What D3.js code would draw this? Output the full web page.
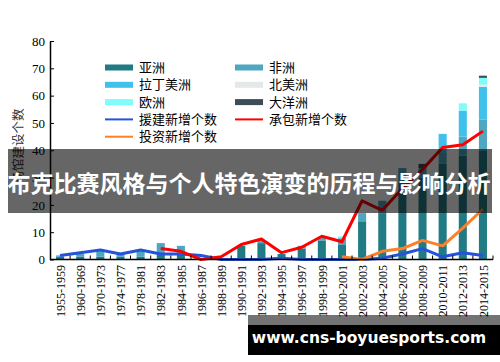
<!DOCTYPE html>
<html>
<head>
<meta charset="utf-8">
<script src="https://cdn.jsdelivr.net/npm/d3@7"></script>
<style>
  body { margin: 0; background: #fff; }
  svg { display: block; }
</style>
</head>
<body>
<div id="chart"></div>
<script>
// periods on the x axis
const periods = ["1955-1959", "1960-1969", "1970-1973", "1974-1977", "1978-1981", "1982-1983",
  "1984-1985", "1986-1987", "1988-1989", "1990-1991", "1992-1993", "1994-1995", "1996-1997",
  "1998-1999", "2000-2001", "2002-2003", "2004-2005", "2006-2007", "2008-2009", "2010-2011",
  "2012-2013", "2014-2015"];

// stacked bars, one array per continent
const asia     = [1, 1, 1, 1, 1, 2, 2, 0, 0, 5, 6, 2, 4, 7, 5.3, 14, 17, 29, 30, 35, 38, 40];
const africa   = [0.5, 1, 2, 1, 2, 4, 3, 0, 0, 0, 1, 0, 1, 1, 2.5, 3, 4.5, 4.5, 3.5, 4, 7, 11.3];
const latAm    = [0, 0, 0, 0, 0, 0, 0, 0, 0, 0, 0, 0, 0, 0, 0, 0, 0, 0, 0, 7, 9.5, 11.9];
const northAm  = [0, 0, 0, 0, 0, 0, 0, 0, 0, 0, 0, 0, 0, 0, 0, 0, 0, 0, 0, 0, 0, 0.8];
const europe   = [0, 0, 0, 0, 0, 0, 0, 0, 0, 0, 0, 0, 0, 0, 0.7, 0, 0, 0, 0, 0, 2.7, 2.5];
const oceania  = [0, 0, 0, 0, 0, 0, 0, 0, 0, 0, 0, 0, 0, 0, 0, 0, 0, 0, 1.5, 0, 0, 0.8];

// lines (null = no value for that period)
const aidNew      = [1.5, 2.5, 3.5, 2, 3.5, 2, 2, 1.5, 0, 0, 0, 0.5, 0, 0, 0, 0, 0.5, 2, 4, 1, 2.5, 1.5];
const contractNew = [null, null, null, null, null, 4, 3, 0, 1, 5.5, 7.5, 2.5, 4.5, 8.5, 6.5, 21.5, 18, 26, 33, 41, 42, 47];
const investNew   = [null, null, null, null, null, null, null, null, null, null, null, null, null, null, 1, 0, 3, 4, 7, 5, 11.5, 18.5];

const yTicks = [0, 10, 20, 30, 40, 50, 60, 70, 80];

const barSeries = [
  { key: "asia", name: "亚洲", values: asia, color: "#217b84" },
  { key: "africa", name: "非洲", values: africa, color: "#4fa6c1" },
  { key: "latAm", name: "拉丁美洲", values: latAm, color: "#3fc1ec" },
  { key: "northAm", name: "北美洲", values: northAm, color: "#e3e8e8" },
  { key: "europe", name: "欧洲", values: europe, color: "#80fcfc" },
  { key: "oceania", name: "大洋洲", values: oceania, color: "#3b4e57" }
];
const lineSeries = [
  { name: "援建新增个数", values: aidNew, color: "#2453d9" },
  { name: "承包新增个数", values: contractNew, color: "#ff0000" },
  { name: "投资新增个数", values: investNew, color: "#ff7f27" }
];

const W = 500, H = 362;
const serif = "'Liberation Serif', 'Noto Sans CJK SC', serif";

const svg = d3.select("#chart").append("svg")
  .attr("width", W)
  .attr("height", H);

const x = d3.scaleBand()
  .domain(periods)
  .range([50, 493])
  .paddingInner(0.6)
  .paddingOuter(0.3);

const y = d3.scaleLinear()
  .domain([0, 80])
  .range([259.5, 41]);

// build the stack table from the arrays
const table = periods.map((p, i) => {
  const row = { period: p };
  barSeries.forEach(s => { row[s.key] = s.values[i]; });
  return row;
});
const stacked = d3.stack().keys(barSeries.map(s => s.key))(table);

svg.append("g")
  .selectAll("g")
  .data(stacked)
  .join("g")
  .attr("fill", (d, i) => barSeries[i].color)
  .selectAll("rect")
  .data(d => d)
  .join("rect")
  .attr("x", d => x(d.data.period))
  .attr("width", x.bandwidth())
  .attr("y", d => y(d[1]))
  .attr("height", d => y(d[0]) - y(d[1]));

// lines
const line = d3.line()
  .defined(d => d != null)
  .x((d, i) => x(periods[i]) + x.bandwidth() / 2)
  .y(d => y(d));

svg.append("g")
  .selectAll("path")
  .data(lineSeries)
  .join("path")
  .attr("fill", "none")
  .attr("stroke", d => d.color)
  .attr("stroke-width", 3)
  .attr("stroke-linejoin", "round")
  .attr("d", d => line(d.values));

// y axis with inward ticks
const yAxis = svg.append("g")
  .attr("transform", "translate(50,0)")
  .call(d3.axisLeft(y).tickValues(yTicks).tickSizeInner(-4).tickSizeOuter(0).tickPadding(5));
yAxis.select(".domain").attr("stroke", "#000").attr("stroke-width", 1.5);
yAxis.selectAll(".tick text").style("font", "13px " + serif).attr("fill", "#000");

// x axis: line, ticks between the bands, rotated labels
const xg = svg.append("g");
xg.append("line")
  .attr("x1", 50).attr("x2", 493)
  .attr("y1", y(0)).attr("y2", y(0))
  .attr("stroke", "#000").attr("stroke-width", 1.5);
const gap = (x.step() - x.bandwidth()) / 2;
xg.selectAll(".xt")
  .data(periods)
  .join("line")
  .attr("class", "xt")
  .attr("x1", d => x(d) + x.bandwidth() + gap)
  .attr("x2", d => x(d) + x.bandwidth() + gap)
  .attr("y1", y(0)).attr("y2", y(0) - 4)
  .attr("stroke", "#000");
xg.selectAll("text")
  .data(periods)
  .join("text")
  .attr("transform", d => `translate(${x(d) + x.bandwidth() / 2 + 0.5},265) rotate(-90)`)
  .attr("text-anchor", "end")
  .attr("dy", "0.35em")
  .style("font", "12px " + serif)
  .text(d => d);

svg.append("text")
  .attr("transform", "translate(19,146) rotate(-90)")
  .attr("text-anchor", "middle")
  .attr("dy", "0.35em")
  .style("font", "12.5px " + serif)
  .attr("fill", "#333")
  .text("场馆建设个数");

// legend, two columns
const legendItems = [
  { name: "亚洲", color: "#217b84", type: "bar" },
  { name: "非洲", color: "#4fa6c1", type: "bar" },
  { name: "拉丁美洲", color: "#3fc1ec", type: "bar" },
  { name: "北美洲", color: "#e3e8e8", type: "bar" },
  { name: "欧洲", color: "#80fcfc", type: "bar" },
  { name: "大洋洲", color: "#3b4e57", type: "bar" },
  { name: "援建新增个数", color: "#2453d9", type: "line" },
  { name: "承包新增个数", color: "#ff0000", type: "line" },
  { name: "投资新增个数", color: "#ff7f27", type: "line" }
];
const lg = svg.append("g")
  .selectAll("g")
  .data(legendItems)
  .join("g")
  .attr("transform", (d, i) => `translate(${i % 2 ? 235 : 105},${67.5 + Math.floor(i / 2) * 17.3})`);
lg.filter(d => d.type === "bar").append("rect")
  .attr("x", 0).attr("y", -3).attr("width", 28).attr("height", 6)
  .attr("fill", d => d.color);
lg.filter(d => d.type === "line").append("line")
  .attr("x1", 0).attr("x2", 28)
  .attr("stroke", d => d.color).attr("stroke-width", 2);
lg.append("text")
  .attr("x", 34)
  .attr("dy", "0.35em")
  .style("font", "13px " + serif)
  .text(d => d.name);

// title banner over the chart
svg.append("rect")
  .attr("x", 8).attr("y", 149).attr("width", 484).attr("height", 64)
  .attr("fill", "rgba(0,0,0,0.6)");
svg.append("text")
  .attr("x", 249).attr("y", 184)
  .attr("text-anchor", "middle")
  .attr("dy", "0.35em")
  .attr("fill", "#fff")
  .style("font", "bold 23px 'Noto Sans CJK SC', sans-serif")
  .text("布克比赛风格与个人特色演变的历程与影响分析");

// watermark
svg.append("rect")
  .attr("x", 248).attr("y", 315).attr("width", 252).attr("height", 10)
  .attr("fill", "rgba(0,0,0,0.55)");
svg.append("rect")
  .attr("x", 248).attr("y", 325).attr("width", 252).attr("height", 30)
  .attr("fill", "#000");
svg.append("text")
  .attr("x", 369).attr("y", 338)
  .attr("text-anchor", "middle")
  .attr("dy", "0.35em")
  .attr("fill", "#fff")
  .style("font", "bold 15.5px 'DejaVu Sans', sans-serif")
  .text("www.cns-boyuesports.com");
</script>
</body>
</html>
